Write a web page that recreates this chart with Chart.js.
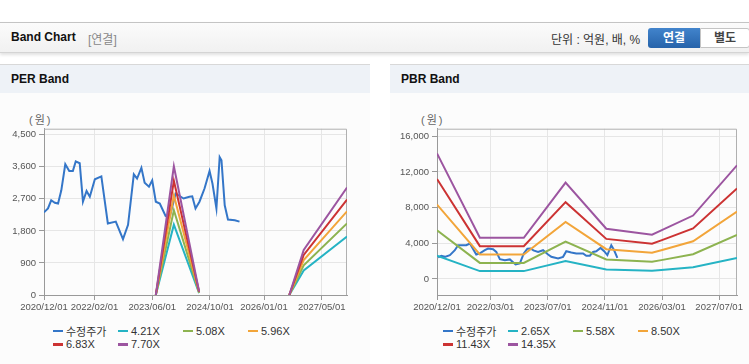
<!DOCTYPE html>
<html>
<head>
<meta charset="utf-8">
<script src="https://cdn.jsdelivr.net/npm/chart.js@4.4.1/dist/chart.umd.min.js"></script>
<style>
body{margin:0;width:749px;height:364px;background:#fff;position:relative;overflow:hidden;font-family:"Liberation Sans","Noto Sans CJK KR",sans-serif;color:#222}
.abs{position:absolute}
#top{left:0;top:22px;width:749px;height:29px;border-top:1px solid #c4c4c4;border-bottom:1px solid #d4d4d4;background:linear-gradient(#fbfbfb,#f1f1f1);box-shadow:0 2px 3px rgba(0,0,0,.12)}
#title{left:11px;top:30px;font-size:12px;font-weight:bold;color:#111}
#sub{left:88px;top:30px;font-size:12px;color:#888}
#unit{left:551px;top:30px;font-size:12px;color:#333}
.btn{top:28px;height:20px;line-height:20px;font-size:12px;font-weight:bold;text-align:center}
#b1{left:648px;width:52px;color:#fff;background:linear-gradient(#4284cc,#2663aa);border-radius:3px 0 0 3px}
#b2{left:700px;width:48px;height:18px;line-height:18px;color:#444;background:#fff;border:1px solid #c4c4c4;border-radius:0 3px 3px 0}
.panel{top:64px;height:300px;background:#fcfcfc;border-top:1px solid #d8d8d8}
.phead{height:28px;line-height:28px;background:#eef2f7;font-size:12px;font-weight:bold;color:#111;padding-left:11px}
.unitlbl{top:111px;font-size:11px;color:#666;letter-spacing:2px}
.legend{top:324px;width:300px;display:flex;flex-wrap:wrap}
.item{width:65px;height:13.5px;display:flex;align-items:center;font-size:11px;color:#333;white-space:nowrap}
.item i{display:inline-block;width:10px;height:2.5px;margin-right:3px}
</style>
</head>
<body>
<div id="top" class="abs"></div>
<div id="title" class="abs">Band Chart</div>
<div id="sub" class="abs">[연결]</div>
<div id="unit" class="abs">단위 : 억원, 배, %</div>
<div id="b1" class="abs btn">연결</div>
<div id="b2" class="abs btn">별도</div>

<div class="abs panel" style="left:0;width:370px"><div class="phead">PER Band</div></div>
<div class="abs panel" style="left:390px;width:359px"><div class="phead">PBR Band</div></div>

<div class="abs unitlbl" style="left:29px">(원)</div>
<div class="abs unitlbl" style="left:421px">(원)</div>

<canvas id="perChart" class="abs" width="370" height="200" style="left:0;top:120px"></canvas>
<canvas id="pbrChart" class="abs" width="360" height="200" style="left:389px;top:120px"></canvas>

<div id="perLegend" class="abs legend" style="left:53px"></div>
<div id="pbrLegend" class="abs legend" style="left:443px"></div>

<script>
/* DATA - x values are months since 2020/12 */
const perXTicks = ["2020/12/01","2022/02/01","2023/06/01","2024/10/01","2026/01/01","2027/05/01"];
const pbrXTicks = ["2020/12/01","2022/03/01","2023/07/01","2024/11/01","2026/03/01","2027/07/01"];
const perYTicks = [0, 900, 1800, 2700, 3600, 4500];
const pbrYTicks = [0, 4000, 8000, 12000, 16000];

const perPrice = [
[0,2320],[1.1,2430],[2,2660],[3,2590],[3.9,2570],[4.8,2940],[5.9,3670],[7,3480],[8,3480],
[8.8,3750],[9.9,3700],[10.8,2620],[11.8,2920],[12.7,2760],[14.1,3250],[15.9,3330],[17.7,2010],
[19.9,2060],[21.9,1570],[23.3,1970],[24.9,3390],[25.8,3270],[27,3570],[27.9,3150],[29.1,3040],
[30,3220],[31,2620],[32.1,2570],[33.7,2220],[34.8,2180],[36.5,2850],[38.7,2710],[40.3,2760],
[41.1,2770],[42,2430],[43.1,2620],[44.5,2990],[45.9,3480],[46.7,3130],[47.8,2430],[48.7,3870],
[49.2,3780],[50.1,2520],[51,2120],[52.9,2100],[54.2,2060]
];
const perBandX = [31, 36, 43, 55, 68, 72, 84];
const per421 = [0, 1975, 55, null, 0, 690, 1640];
const per508 = [0, 2380, 66, null, 0, 835, 2010];
const per596 = [0, 2795, 78, null, 0, 980, 2350];
const per683 = [0, 3205, 89, null, 0, 1125, 2680];
const per770 = [0, 3615, 100, null, 0, 1265, 3020];

const pbrPrice = [
[0.3,2410],[1.2,2590],[2.2,2480],[3.6,2670],[5,3220],[5.9,3780],[8.2,3780],[9.2,3970],[11,2740],
[12,2860],[13.4,3220],[14.3,3410],[15.7,3330],[16.6,3030],[17.6,2220],[19,2110],[20.4,2190],
[22,1630],[23.2,1740],[24.3,2860],[25.3,3400],[26.2,3420],[27,3200],[28.3,3030],[29.7,3220],
[31.1,2740],[32,2480],[33.9,2300],[35.3,2480],[36.2,3110],[37.6,2970],[39,2860],[40.9,2860],
[41.8,2590],[42.8,2600],[43.7,3030],[44.6,3110],[45.8,3480],[46.8,3110],[47.7,2670],[48.8,3780],
[49.6,3220],[50.5,2370]
];
const pbrBandX = [0, 12, 24.3, 36, 47.4, 60.2, 62.8, 71.7, 84];
const pbr265 = [2600, 880, 880, 2000, 1060, 930, 1010, 1310, 2350];
const pbr558 = [5470, 1800, 1800, 4200, 2190, 1930, 2110, 2770, 4950];
const pbr850 = [8340, 2740, 2740, 6400, 3340, 2940, 3220, 4220, 7550];
const pbr1143 = [11210, 3680, 3680, 8610, 4490, 3950, 4330, 5670, 10150];
const pbr1435 = [14080, 4620, 4620, 10810, 5630, 4960, 5440, 7110, 12740];

const COLORS = ["#3476c8","#25b3c4","#8db350","#f2a53a","#cc3333","#9c55a0"];
const perNames = ["수정주가","4.21X","5.08X","5.96X","6.83X","7.70X"];
const pbrNames = ["수정주가","2.65X","5.58X","8.50X","11.43X","14.35X"];

/* HELPERS */
const monthIndex = (s) => {
const [y, m] = s.split("/").map(Number);
return (y - 2020) * 12 + (m - 12);
};
const pairs = (arr) => arr.map(p => ({x: p[0], y: p[1]}));
const band = (xs, ys) => xs.map((x, i) => ({x, y: ys[i]}));

const tickFont = {family: "'Liberation Sans', Arial, sans-serif", size: 9.5};

const frame = {
id: "frame",
beforeDatasetsDraw(c) {
const a = c.chartArea, ctx = c.ctx;
ctx.save();
ctx.strokeStyle = "#b0b0b0";
ctx.lineWidth = 1;
ctx.beginPath();
ctx.moveTo(a.left, a.top + .5);
ctx.lineTo(a.right - .5, a.top + .5);
ctx.lineTo(a.right - .5, a.bottom);
ctx.stroke();
ctx.restore();
}
};

/* CHART */
function drawBand(id, price, bandX, bands, names, xTicks, yTicks, yMin, yMax, yWidth, rightPad) {
const datasets = [{data: pairs(price)}]
.concat(bands.map(b => ({data: band(bandX, b)})))
.map((d, i) => Object.assign(d, {
label: names[i],
borderColor: COLORS[i],
borderWidth: 2,
pointRadius: 0,
tension: 0,
spanGaps: false,
order: i === 0 ? 10 : 5 - i
}));

return new Chart(document.getElementById(id), {
type: "line",
data: {datasets},
plugins: [frame],
options: {
responsive: false,
animation: false,
devicePixelRatio: 1,
layout: {padding: {top: 8, right: rightPad, left: 0, bottom: 0}},
plugins: {legend: {display: false}, tooltip: {enabled: false}},
scales: {
x: {
type: "linear", min: 0, max: 84,
afterBuildTicks: s => { s.ticks = xTicks.map(t => ({value: monthIndex(t)})); },
afterFit: s => { s.height = 25; },
ticks: {callback: (v, i) => xTicks[i], font: tickFont, color: "#555", maxRotation: 0, autoSkip: false, padding: 2},
grid: {color: "#e6e6e6", tickColor: "#999", tickLength: 5},
border: {color: "#999"}
},
y: {
min: yMin, max: yMax,
afterBuildTicks: s => { s.ticks = yTicks.map(v => ({value: v})); },
afterFit: s => { s.width = yWidth; },
ticks: {callback: v => v.toLocaleString("en-US"), font: tickFont, color: "#555", padding: 3},
grid: {color: "#e6e6e6", tickColor: "#999", tickLength: 5},
border: {color: "#999"}
}
}
}
});
}

function legend(id, names) {
const box = document.getElementById(id);
box.innerHTML = names.map((n, i) =>
`<div class="item"><i style="background:${COLORS[i]}"></i>${n}</div>`).join("");
}

drawBand("perChart", perPrice, perBandX, [per421, per508, per596, per683, per770],
perNames, perXTicks, perYTicks, 0, 4670, 44, 23);
drawBand("pbrChart", pbrPrice, pbrBandX, [pbr265, pbr558, pbr850, pbr1143, pbr1435],
pbrNames, pbrXTicks, pbrYTicks, -1800, 16850, 48, 12);

legend("perLegend", perNames);
legend("pbrLegend", pbrNames);
</script>
</body>
</html>
